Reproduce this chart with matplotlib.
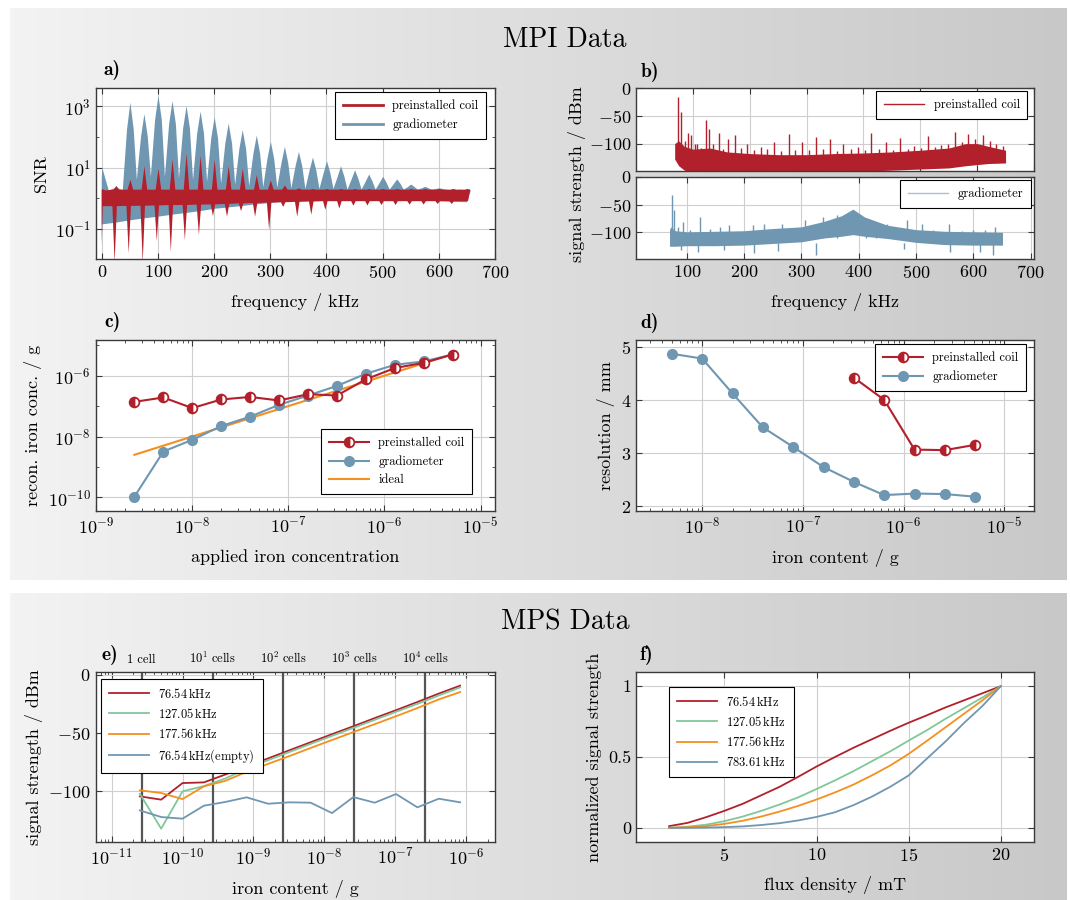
import numpy as np
import matplotlib.pyplot as plt
from matplotlib.lines import Line2D
from matplotlib.colors import LinearSegmentedColormap
from matplotlib.ticker import FixedLocator, LogLocator, NullFormatter

plt.rcParams['font.family'] = 'cmr10'
plt.rcParams['mathtext.fontset'] = 'cm'
plt.rcParams['axes.formatter.use_mathtext'] = True

RED = '#b2202b'
BLUE = '#7097b2'
ORANGE = '#f39020'
GREEN = '#80c79a'
LIGHTBLUE = '#a9c1d4'

# ---------------- data ----------------
# a) SNR spectra, values read per 25 kHz harmonic
a_harm_f = [0, 25, 50, 75, 100, 125, 150, 175, 200, 225, 250, 275, 300, 325,
            350, 375, 400, 425, 450, 475, 500, 525, 550, 575, 600, 625, 650]
a_grad_peak = [10, 2.2, 1290, 550, 2140, 1450, 1000, 660, 430, 270, 165, 110, 69, 47,
               32, 21, 16, 11, 8.1, 5.9, 5.0, 4.1, 2.8, 2.35, 2.1, 1.8, 1.8]
a_grad_shoulder = [4, 2.0, 170, 100, 350, 260, 190, 130, 90, 60, 40, 28, 19, 14,
                   11, 8, 6.5, 5, 4.2, 3.5, 3.2, 2.9, 2.3, 2.1, 2.0, 1.8, 1.8]
a_grad_valley = [1.8, 1.8, 4.0, 5.0, 5.0, 4.5, 4.0, 3.5, 3.0, 2.8, 2.5, 2.3, 2.2,
                 2.1, 2.0, 2.0, 2.0, 1.9, 1.9, 1.9, 1.9, 1.9, 1.9, 1.9, 1.9, 1.9]
a_grad_low = [0.14, 0.16, 0.19, 0.22, 0.25, 0.29, 0.33, 0.38, 0.45, 0.5, 0.56, 0.63, 0.7,
              0.76, 0.82, 0.88, 0.94, 0.97, 0.98, 0.97, 0.95, 0.92, 0.88, 0.84, 0.8, 0.76, 0.74]
a_coil_peak = [2.0, 2.5, 4.0, 11, 9, 18, 28, 24, 18, 11, 9, 5.6, 3.8, 2.6,
               2.1, 2.0, 2.0, 2.0, 2.0, 2.0, 2.0, 2.0, 2.0, 2.0, 2.0, 2.0, 2.0]
a_coil_dip = [0.03, 0.008, 0.016, 0.008, 0.04, 0.018, 0.043, 0.063, 0.26, 0.25, 0.38, 0.25,
              0.092, 0.52, 0.25, 0.29, 0.42, 0.46, 0.57, 0.58, 0.6, 0.6, 0.62, 0.62, 0.65, 0.65, 0.8]
a_coil_top = [1.8, 1.9, 1.9, 1.9, 1.9, 1.9, 1.9, 1.9, 1.9, 1.9, 1.9, 1.9, 1.9,
              1.9, 1.9, 1.9, 1.9, 1.9, 1.9, 1.9, 1.9, 1.9, 1.9, 1.9, 1.9, 1.9, 1.9]
a_coil_bot = [0.55, 0.55, 0.56, 0.57, 0.58, 0.6, 0.6, 0.62, 0.63, 0.65, 0.68, 0.7, 0.72,
              0.74, 0.76, 0.78, 0.8, 0.8, 0.8, 0.8, 0.8, 0.8, 0.8, 0.8, 0.8, 0.8, 0.8]

# b) spectra in dBm: band envelopes and prominent spikes
b_coil_f = [68, 75, 85, 100, 130, 160, 200, 250, 300, 350, 400, 450, 500, 550, 580, 600, 620, 650]
b_coil_hi = [-100, -95, -105, -110, -108, -115, -118, -120, -120, -118, -117, -115, -112,
             -108, -100, -100, -105, -112]
b_coil_lo = [-128, -140, -148, -152, -152, -152, -152, -152, -152, -150, -150, -148, -146,
             -144, -140, -138, -136, -135]
b_coil_spike_f = [74, 80, 86, 91, 97, 103, 107, 115, 123, 129, 135, 146, 153, 161, 174, 185,
                  196, 208, 219, 230, 242, 255, 269, 280, 292, 304, 316, 329, 342, 353, 364,
                  378, 390, 402, 414, 427, 440, 452, 465, 478, 489, 501, 513, 526, 537, 549,
                  561, 573, 584, 597, 610, 622, 634, 645]
b_coil_spike_v = [-16, -43, -95, -81, -85, -100, -100, -108, -57, -73, -100, -81, -110, -91,
                  -85, -108, -100, -112, -106, -110, -97, -113, -82, -112, -97, -112, -88,
                  -110, -91, -113, -100, -110, -106, -112, -81, -110, -97, -112, -89, -110,
                  -105, -108, -87, -106, -102, -100, -79, -97, -83, -92, -85, -96, -100, -104]
b_grad_f = [70, 72, 80, 100, 150, 200, 250, 300, 340, 370, 390, 410, 450, 500, 550, 600, 651]
b_grad_hi = [-95, -90, -97, -99, -98, -97, -93, -90, -80, -70, -58, -72, -87, -95, -98, -99, -100]
b_grad_lo = [-125, -125, -125, -124, -124, -123, -120, -117, -110, -107, -104, -107, -111,
             -118, -122, -123, -123]
b_grad_spike_f = [74, 77, 85, 93, 105, 123, 140, 158, 173, 190, 216, 235, 250, 266, 285, 306,
                  322, 338, 362, 413, 430, 449, 466, 484, 510, 530, 558, 580, 600, 620, 638]
b_grad_spike_v = [-33, -60, -90, -81, -95, -72, -93, -90, -87, -100, -87, -84, -98, -84, -95,
                  -78, -90, -72, -69, -75, -88, -84, -92, -78, -84, -95, -84, -98, -95, -96, -90]
b_grad_dip_f = [90, 120, 165, 217, 260, 325, 480, 560, 611, 635]
b_grad_dip_v = [-132, -135, -132, -137, -133, -140, -130, -135, -136, -140]

# c) reconstructed vs applied iron
c_applied = [2.5e-9, 5e-9, 1e-8, 2e-8, 4e-8, 8e-8, 1.6e-7, 3.2e-7, 6.4e-7, 1.28e-6, 2.56e-6, 5.12e-6]
c_coil = [1.38e-7, 1.92e-7, 8.6e-8, 1.65e-7, 2.0e-7, 1.53e-7, 2.46e-7, 2.23e-7, 7.6e-7,
          1.78e-6, 2.65e-6, 4.97e-6]
c_grad = [1.05e-10, 3.2e-9, 7.8e-9, 2.2e-8, 4.5e-8, 1.1e-7, 2.23e-7, 4.6e-7, 1.16e-6,
          2.28e-6, 2.95e-6, 4.97e-6]
c_ideal = [2.5e-9, 5e-9, 1e-8, 2e-8, 4e-8, 8e-8, 1.6e-7, 3.2e-7, 6.4e-7, 1.28e-6, 2.56e-6, 5.12e-6]

# d) resolution
d_grad_x = [5e-9, 1e-8, 2e-8, 4e-8, 8e-8, 1.6e-7, 3.2e-7, 6.4e-7, 1.28e-6, 2.56e-6, 5.12e-6]
d_grad_y = [4.88, 4.79, 4.13, 3.49, 3.12, 2.74, 2.46, 2.21, 2.24, 2.23, 2.18]
d_coil_x = [3.2e-7, 6.4e-7, 1.28e-6, 2.56e-6, 5.12e-6]
d_coil_y = [4.43, 4.01, 3.07, 3.06, 3.16]

# e) MPS signal vs iron content
e_iron = [2.5e-11, 5e-11, 1e-10, 2e-10, 4e-10, 8e-10, 1.6e-9, 3.2e-9, 6.4e-9, 1.28e-8,
          2.56e-8, 5.12e-8, 1.024e-7, 2.048e-7, 4.096e-7, 8.192e-7]
e_76 = [-104.3, -107.1, -92.9, -92.3, -85.6, -78.6, -71.8, -64.8, -57.9, -51.0, -44.2,
        -37.2, -30.4, -23.4, -16.2, -9.4]
e_127 = [-102.0, -132.0, -100.0, -95.5, -89.0, -80.5, -73.3, -66.3, -59.3, -52.4, -45.6,
         -38.7, -31.8, -25.0, -17.8, -10.9]
e_177 = [-99.1, -101.4, -106.6, -95.7, -91.0, -83.3, -76.5, -69.8, -62.8, -56.0, -49.2,
         -42.4, -35.6, -28.6, -21.2, -14.9]
e_empty = [-116.3, -122.0, -123.4, -112.3, -109.1, -105.1, -110.6, -109.4, -109.7, -118.6,
           -104.9, -109.7, -102.3, -113.7, -106.3, -109.4]
e_cells = [2.65e-11, 2.65e-10, 2.65e-9, 2.65e-8, 2.65e-7]
e_cell_labels = ['1 cell', r'$10^1$ cells', r'$10^2$ cells', r'$10^3$ cells', r'$10^4$ cells']

# f) normalized signal vs flux density
f_flux = [2, 3, 4, 5, 6, 7, 8, 9, 10, 11, 12, 13, 14, 15, 16, 17, 18, 19, 20]
f_76 = [0.012, 0.035, 0.075, 0.12, 0.17, 0.23, 0.29, 0.36, 0.433, 0.5, 0.565, 0.625, 0.685,
        0.742, 0.795, 0.85, 0.9, 0.95, 1.0]
f_127 = [0.0, 0.008, 0.022, 0.047, 0.08, 0.12, 0.165, 0.215, 0.274, 0.335, 0.4, 0.47, 0.54,
         0.616, 0.69, 0.77, 0.845, 0.92, 1.0]
f_177 = [0.0, 0.004, 0.012, 0.028, 0.05, 0.08, 0.115, 0.155, 0.2, 0.25, 0.305, 0.37, 0.44,
         0.522, 0.615, 0.71, 0.805, 0.9, 1.0]
f_783 = [0.0, 0.0, 0.002, 0.005, 0.01, 0.02, 0.033, 0.052, 0.077, 0.11, 0.16, 0.22, 0.29,
         0.37, 0.49, 0.61, 0.74, 0.86, 1.0]

# ---------------- figure ----------------
W, H = 1070, 900
fig = plt.figure(figsize=(W / 100, H / 100), dpi=100)

bg = fig.add_axes([0, 0, 1, 1], zorder=-10)
cmap = LinearSegmentedColormap.from_list('bg', ['#f3f3f3', '#c8c8c8'])
grad = np.linspace(0, 1, 256)[None, :]
bg.imshow(grad, extent=[10, 1067, 580, 8], aspect='auto', cmap=cmap)
bg.imshow(grad, extent=[10, 1067, 900, 593], aspect='auto', cmap=cmap)
bg.set_xlim(0, W)
bg.set_ylim(H, 0)
bg.axis('off')
bg.text(565, 40, 'MPI Data', fontsize=20, ha='center', va='center')
bg.text(565, 622, 'MPS Data', fontsize=20, ha='center', va='center')
for lab, x, y in [('a)', 103, 70), ('b)', 641, 72), ('c)', 104, 322),
                  ('d)', 640, 323), ('e)', 102, 655), ('f)', 640, 655)]:
    bg.text(x, y, lab, family='cmb10', fontsize=14, ha='left', va='center')
bg.text(577, 174, 'signal strength / dBm', fontsize=13, rotation=90, ha='center', va='center')


def box(x0, y0, x1, y1):
    return fig.add_axes([x0 / W, 1 - y1 / H, (x1 - x0) / W, (y1 - y0) / H])


def style(ax):
    ax.set_facecolor('white')
    for s in ax.spines.values():
        s.set_color('#3a3a3a')
        s.set_linewidth(1.0)
    ax.grid(True, which='major', color='#cfcfcf', lw=0.8)
    ax.set_axisbelow(True)
    ax.tick_params(which='both', direction='in', top=True, right=True,
                   labelsize=13, color='#3a3a3a')
    ax.tick_params(which='major', length=4)
    ax.tick_params(which='minor', length=2)


def leg(ax, handles, labels, x, y):
    l = ax.legend(handles, labels, loc='upper left', bbox_to_anchor=(x / W, 1 - y / H),
                  bbox_transform=fig.transFigure, fontsize=9, frameon=True,
                  fancybox=False, edgecolor='black', framealpha=1, borderpad=0.6,
                  borderaxespad=0, handlelength=3.2, labelspacing=0.5)
    l.get_frame().set_linewidth(0.8)
    return l


# a)
ax = box(95.7, 88.3, 495, 259)
style(ax)
ax.set_yscale('log')
gx, gy = [a_harm_f[0]], [a_grad_low[0]]
for i, f in enumerate(a_harm_f):
    gx += [f - 5, f + 1, f + 7]
    gy += [a_grad_shoulder[i], a_grad_peak[i], a_grad_shoulder[i]]
    if i < len(a_grad_valley):
        gx.append(f + 12.5)
        gy.append(a_grad_valley[i])
gx[1] = 0
gx += a_harm_f[::-1]
gy += a_grad_low[::-1]
ax.fill(gx, gy, color=BLUE, lw=0)
ux, uy, lx, ly = [], [], [], []
for i, f in enumerate(a_harm_f):
    ux += [max(f - 4, 0), f + 1, f + 6]
    uy += [a_coil_top[i], a_coil_peak[i], a_coil_top[i]]
    lx += [max(f - 6, 0), max(f - 2, 0), f + 2]
    ly += [a_coil_bot[i], a_coil_dip[i], a_coil_bot[i]]
ax.fill(ux + lx[::-1], uy + ly[::-1], color=RED, lw=0)
ax.set_xlim(-10.7, 700)
ax.set_ylim(10 ** -1.98, 10 ** 3.58)
ax.set_xticks(range(0, 701, 100))
ax.yaxis.set_major_locator(FixedLocator([1e-1, 1e1, 1e3]))
ax.yaxis.set_minor_locator(FixedLocator([1e-2, 1e0, 1e2]))
ax.yaxis.set_minor_formatter(NullFormatter())
ax.set_xlabel('frequency / kHz', fontsize=13, labelpad=9)
ax.set_ylabel('SNR', fontsize=13)
leg(ax, [Line2D([], [], color=RED, lw=2), Line2D([], [], color=BLUE, lw=2)],
    ['preinstalled coil', 'gradiometer'], 335, 92)

# b) upper
ax = box(636, 88.3, 1034, 170.7)
style(ax)
ax.vlines(b_coil_spike_f, -125, b_coil_spike_v, color=RED, lw=1.0)
ax.fill_between(b_coil_f, b_coil_lo, b_coil_hi, color=RED, lw=0)
ax.set_xlim(0, 700)
ax.set_ylim(-149, 0)
ax.set_xticks(range(100, 701, 100))
ax.set_xticklabels([])
ax.set_yticks([-100, -50, 0])
leg(ax, [Line2D([], [], color=RED, lw=1)], ['preinstalled coil'], 876, 91)

# b) lower
ax = box(636, 176.7, 1034, 259)
style(ax)
ax.vlines(b_grad_spike_f, -110, b_grad_spike_v, color=BLUE, lw=1.0)
ax.vlines(b_grad_dip_f, -120, b_grad_dip_v, color=BLUE, lw=1.0)
ax.fill_between(b_grad_f, b_grad_lo, b_grad_hi, color=BLUE, lw=0)
ax.set_xlim(11.5, 706)
ax.set_ylim(-148, 0.5)
ax.set_xticks(range(100, 701, 100))
ax.set_yticks([-100, -50, 0])
ax.set_xlabel('frequency / kHz', fontsize=13, labelpad=9)
leg(ax, [Line2D([], [], color=LIGHTBLUE, lw=1)], ['gradiometer'], 900, 180)

# c)
ax = box(95.7, 339.5, 495, 511)
style(ax)
ax.set_xscale('log')
ax.set_yscale('log')
ax.plot(c_applied, c_ideal, color=ORANGE, lw=1.5, zorder=2)
ax.plot(c_applied, c_grad, color=BLUE, lw=1.5, marker='o', ms=7, mec=BLUE, zorder=3)
ax.plot(c_applied, c_coil, color=RED, lw=1.5, marker='o', ms=7, fillstyle='left',
        mfc=RED, mfcalt='white', mec=RED, mew=1.3, zorder=4)
ax.set_xlim(10 ** -9.005, 10 ** -4.85)
ax.set_ylim(10 ** -10.45, 10 ** -4.81)
ax.xaxis.set_major_locator(FixedLocator([1e-9, 1e-8, 1e-7, 1e-6, 1e-5]))
ax.xaxis.set_minor_locator(LogLocator(base=10, subs=range(2, 10), numticks=20))
ax.xaxis.set_minor_formatter(NullFormatter())
ax.yaxis.set_major_locator(FixedLocator([1e-10, 1e-8, 1e-6]))
ax.yaxis.set_minor_locator(FixedLocator([1e-9, 1e-7, 1e-5]))
ax.yaxis.set_minor_formatter(NullFormatter())
ax.set_xlabel('applied iron concentration', fontsize=13, labelpad=9)
ax.set_ylabel('recon. iron conc. / g', fontsize=13)
leg(ax, [Line2D([], [], color=RED, lw=1.5, marker='o', ms=7, fillstyle='left', mfc=RED,
                mfcalt='white', mec=RED, mew=1.3),
         Line2D([], [], color=BLUE, lw=1.5, marker='o', ms=7),
         Line2D([], [], color=ORANGE, lw=1.5)],
    ['preinstalled coil', 'gradiometer', 'ideal'], 321, 429)

# d)
ax = box(636, 339.5, 1034, 511)
style(ax)
ax.set_xscale('log')
ax.plot(d_grad_x, d_grad_y, color=BLUE, lw=1.5, marker='o', ms=7, zorder=3)
ax.plot(d_coil_x, d_coil_y, color=RED, lw=1.5, marker='o', ms=7, fillstyle='left',
        mfc=RED, mfcalt='white', mec=RED, mew=1.3, zorder=4)
ax.set_xlim(10 ** -8.657, 10 ** -4.707)
ax.set_ylim(1.91, 5.15)
ax.xaxis.set_major_locator(FixedLocator([1e-8, 1e-7, 1e-6, 1e-5]))
ax.xaxis.set_minor_locator(LogLocator(base=10, subs=range(2, 10), numticks=20))
ax.xaxis.set_minor_formatter(NullFormatter())
ax.set_yticks([2, 3, 4, 5])
ax.set_xlabel('iron content / g', fontsize=13, labelpad=9)
ax.set_ylabel('resolution / mm', fontsize=13)
leg(ax, [Line2D([], [], color=RED, lw=1.5, marker='o', ms=7, fillstyle='left', mfc=RED,
                mfcalt='white', mec=RED, mew=1.3),
         Line2D([], [], color=BLUE, lw=1.5, marker='o', ms=7)],
    ['preinstalled coil', 'gradiometer'], 875, 344)

# e)
ax = box(95.7, 672, 495, 842)
style(ax)
ax.set_xscale('log')
for c in e_cells:
    ax.axvline(c, color='#555555', lw=1.6, zorder=1.5)
ax.plot(e_iron, e_76, color=RED, lw=1.3, zorder=3)
ax.plot(e_iron, e_127, color=GREEN, lw=1.3, zorder=3)
ax.plot(e_iron, e_177, color=ORANGE, lw=1.3, zorder=3)
ax.plot(e_iron, e_empty, color=BLUE, lw=1.3, zorder=3)
ax.set_xlim(10 ** -11.224, 10 ** -5.595)
ax.set_ylim(-143.4, 2.3)
ax.xaxis.set_major_locator(FixedLocator([1e-11, 1e-10, 1e-9, 1e-8, 1e-7, 1e-6]))
ax.xaxis.set_minor_locator(LogLocator(base=10, subs=range(2, 10), numticks=20))
ax.xaxis.set_minor_formatter(NullFormatter())
ax.set_yticks([-100, -50, 0])
for c, lab in zip(e_cells, e_cell_labels):
    ax.text(c, 1.035, lab, transform=ax.get_xaxis_transform(), ha='center', va='bottom',
            fontsize=9)
ax.set_xlabel('iron content / g', fontsize=13, labelpad=9)
ax.set_ylabel('signal strength / dBm', fontsize=13)
leg(ax, [Line2D([], [], color=c, lw=1.3) for c in (RED, GREEN, ORANGE, BLUE)],
    [r'76.54$\,$kHz', r'127.05$\,$kHz', r'177.56$\,$kHz', r'76.54$\,$kHz(empty)'], 101, 679)

# f)
ax = box(636, 672, 1034, 842)
style(ax)
ax.plot(f_flux, f_76, color=RED, lw=1.3)
ax.plot(f_flux, f_127, color=GREEN, lw=1.3)
ax.plot(f_flux, f_177, color=ORANGE, lw=1.3)
ax.plot(f_flux, f_783, color=BLUE, lw=1.3)
ax.set_xlim(0.2, 21.8)
ax.set_ylim(-0.1, 1.1)
ax.set_xticks([5, 10, 15, 20])
ax.set_yticks([0, 0.5, 1])
ax.set_yticklabels(['0', '0.5', '1'])
ax.set_xlabel('flux density / mT', fontsize=13, labelpad=9)
ax.set_ylabel('normalized signal strength', fontsize=13)
leg(ax, [Line2D([], [], color=c, lw=1.3) for c in (RED, GREEN, ORANGE, BLUE)],
    [r'76.54$\,$kHz', r'127.05$\,$kHz', r'177.56$\,$kHz', r'783.61$\,$kHz'], 669, 687)

fig.savefig('out.png', dpi=100)
